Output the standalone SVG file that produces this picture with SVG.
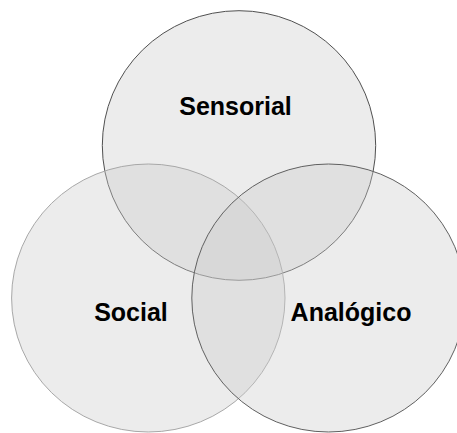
<svg xmlns="http://www.w3.org/2000/svg" width="457" height="433" viewBox="0 0 457 433">
  <style>
    .set { fill: #cbcbcb; fill-opacity: 0.37; stroke-width: 1; }
    .lbl { font-family: "Liberation Sans", Arial, sans-serif; font-weight: bold; font-size: 25px; fill: #000; text-anchor: middle; }
  </style>
  <rect width="457" height="433" fill="#ffffff"/>
  <g id="sensorial">
    <ellipse class="set" cx="239" cy="145.5" rx="136.7" ry="134.8" stroke="#505050"/>
  </g>
  <g id="social">
    <ellipse class="set" cx="148.3" cy="298" rx="136.7" ry="134" stroke="#a8a8a8"/>
  </g>
  <g id="analogico">
    <ellipse class="set" cx="328.5" cy="298" rx="136.7" ry="134" stroke="#606060"/>
  </g>
  <g id="connectors"></g>
  <g id="labels">
    <text class="lbl" x="235.5" y="115">Sensorial</text>
    <text class="lbl" x="131" y="321">Social</text>
    <text class="lbl" x="351" y="321">Analógico</text>
  </g>
</svg>
